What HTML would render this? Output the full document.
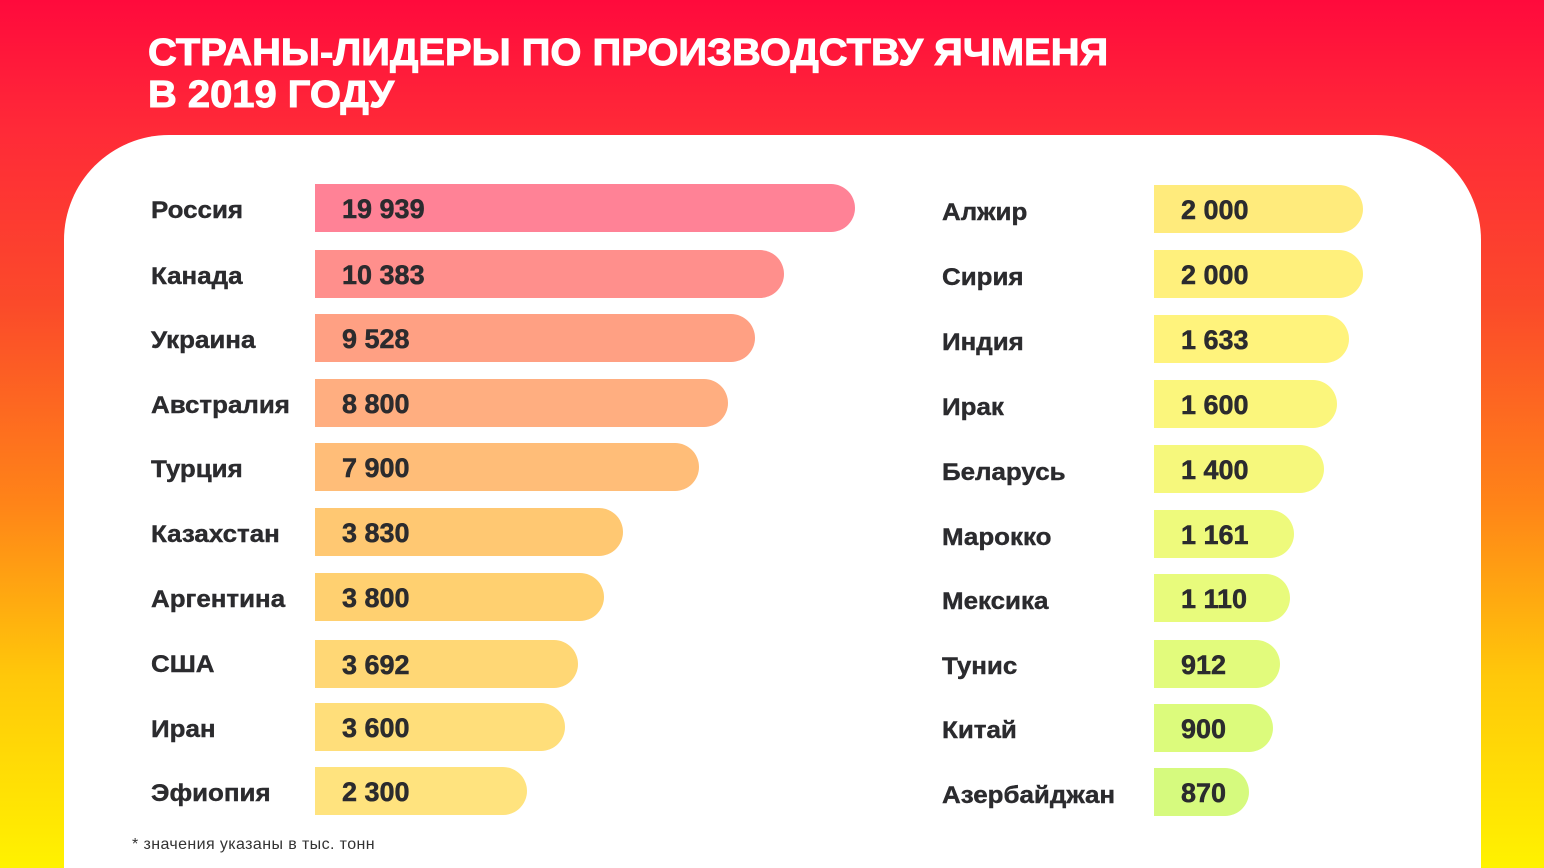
<!DOCTYPE html>
<html><head><meta charset="utf-8"><style>
*{margin:0;padding:0;box-sizing:border-box}
html,body{width:1544px;height:868px;overflow:hidden}
body{position:relative;font-family:"Liberation Sans","DejaVu Sans",sans-serif;
background:linear-gradient(180deg,#ff0a3c 0%,#ff2a38 15%,#fb4a2a 35%,#ff8418 58%,#ffc80a 78%,#fff200 100%) no-repeat;background-size:1544px 868px}
.title{position:absolute;left:148px;top:32px;color:#fff;font-weight:900;font-size:38px;line-height:42px;transform:scaleX(1.05);transform-origin:left;-webkit-text-stroke:1px #fff}
.card{position:absolute;left:64px;top:135px;width:1417px;height:733px;background:#fff;border-radius:105px 105px 0 0}
.l{position:absolute;font-weight:bold;font-size:24px;color:#2b2b2e;line-height:48px;margin-top:3px;transform:scaleX(1.08);transform-origin:left;-webkit-text-stroke:0.4px #2b2b2e}
.b{position:absolute;height:48px;border-radius:0 24px 24px 0;font-weight:bold;font-size:27px;color:#2b2b2e;line-height:50px;padding-left:27px;-webkit-text-stroke:0.5px #2b2b2e}
.note{position:absolute;left:132px;top:836px;font-size:16px;color:#333;letter-spacing:0.4px}
</style></head><body>
<div class="title">СТРАНЫ-ЛИДЕРЫ ПО ПРОИЗВОДСТВУ ЯЧМЕНЯ<br>В 2019 ГОДУ</div>
<div class="card"></div>

<div class="l" style="left:151px;top:184px">Россия</div><div class="b" style="left:315px;top:184px;width:540px;background:#ff8296">19 939</div>
<div class="l" style="left:151px;top:250px">Канада</div><div class="b" style="left:315px;top:250px;width:469px;background:#ff8f8c">10 383</div>
<div class="l" style="left:151px;top:314px">Украина</div><div class="b" style="left:315px;top:314px;width:440px;background:#ffa083">9 528</div>
<div class="l" style="left:151px;top:379px">Австралия</div><div class="b" style="left:315px;top:379px;width:413px;background:#ffae80">8 800</div>
<div class="l" style="left:151px;top:443px">Турция</div><div class="b" style="left:315px;top:443px;width:384px;background:#ffbd78">7 900</div>
<div class="l" style="left:151px;top:508px">Казахстан</div><div class="b" style="left:315px;top:508px;width:308px;background:#ffc872">3 830</div>
<div class="l" style="left:151px;top:573px">Аргентина</div><div class="b" style="left:315px;top:573px;width:289px;background:#ffd070">3 800</div>
<div class="l" style="left:151px;top:638px">США</div><div class="b" style="left:315px;top:640px;width:263px;background:#ffd775">3 692</div>
<div class="l" style="left:151px;top:703px">Иран</div><div class="b" style="left:315px;top:703px;width:250px;background:#ffde7a">3 600</div>
<div class="l" style="left:151px;top:767px">Эфиопия</div><div class="b" style="left:315px;top:767px;width:212px;background:#ffe37e">2 300</div>

<div class="l" style="left:942px;top:186px">Алжир</div><div class="b" style="left:1154px;top:185px;width:209px;background:#ffeb7c">2 000</div>
<div class="l" style="left:942px;top:251px">Сирия</div><div class="b" style="left:1154px;top:250px;width:209px;background:#fff07c">2 000</div>
<div class="l" style="left:942px;top:316px">Индия</div><div class="b" style="left:1154px;top:315px;width:195px;background:#fff37c">1 633</div>
<div class="l" style="left:942px;top:381px">Ирак</div><div class="b" style="left:1154px;top:380px;width:183px;background:#fbf67c">1 600</div>
<div class="l" style="left:942px;top:446px">Беларусь</div><div class="b" style="left:1154px;top:445px;width:170px;background:#f6f87c">1 400</div>
<div class="l" style="left:942px;top:511px">Марокко</div><div class="b" style="left:1154px;top:510px;width:140px;background:#eefa7c">1 161</div>
<div class="l" style="left:942px;top:575px">Мексика</div><div class="b" style="left:1154px;top:574px;width:136px;background:#e8fb7c">1 110</div>
<div class="l" style="left:942px;top:640px">Тунис</div><div class="b" style="left:1154px;top:640px;width:126px;background:#e2fb7c">912</div>
<div class="l" style="left:942px;top:704px">Китай</div><div class="b" style="left:1154px;top:704px;width:119px;background:#dcfb7c">900</div>
<div class="l" style="left:942px;top:769px">Азербайджан</div><div class="b" style="left:1154px;top:768px;width:95px;background:#d6fa7e">870</div>

<div class="note">* значения указаны в тыс. тонн</div>
</body></html>
